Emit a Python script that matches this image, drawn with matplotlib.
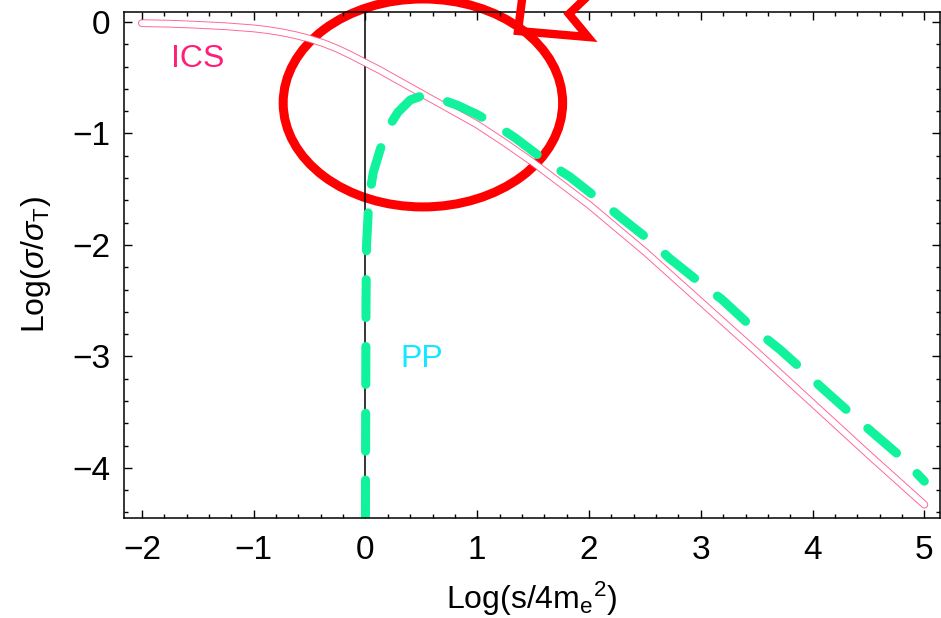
import matplotlib
matplotlib.use("Agg")
import matplotlib.pyplot as plt
from matplotlib.patches import Ellipse
from matplotlib.lines import Line2D
from matplotlib.ticker import MultipleLocator

plt.rcParams['font.family'] = ['Liberation Sans', 'DejaVu Sans']
plt.rcParams['mathtext.fontset'] = 'custom'
plt.rcParams['mathtext.rm'] = 'Liberation Sans'
plt.rcParams['mathtext.it'] = 'Liberation Sans:italic'

# inverse Compton scattering cross section, log10(sigma/sigma_T)
ics_x = [-2.0, -1.75, -1.5, -1.25, -1.0, -0.875, -0.75, -0.625, -0.5, -0.375, -0.25, -0.125,
         0.0, 0.125, 0.25, 0.375, 0.5, 0.625, 0.75, 0.875, 1.0, 1.25, 1.5, 1.75,
         2.0, 2.5, 3.0, 3.5, 4.0, 4.5, 5.0]
ics_y = [-0.01, -0.015, -0.025, -0.038, -0.057, -0.072, -0.092, -0.118, -0.15, -0.19, -0.24, -0.30,
         -0.365, -0.43, -0.50, -0.57, -0.64, -0.71, -0.78, -0.85, -0.92, -1.085, -1.26, -1.45,
         -1.64, -2.06, -2.51, -2.96, -3.42, -3.88, -4.33]

# pair production cross section
pp_x = [0.0, 0.002, 0.005, 0.01, 0.03, 0.07, 0.13, 0.19, 0.29, 0.40, 0.51, 0.64,
        0.83, 1.0, 1.16, 1.34, 1.63, 1.83, 2.11, 2.28, 2.57, 2.72, 3.02, 3.19, 3.46,
        3.71, 3.91, 4.07, 4.35, 4.51, 4.80, 5.0]
pp_y = [-4.45, -3.5, -2.5, -2.0, -1.6, -1.35, -1.15, -0.97, -0.81, -0.70, -0.66, -0.68,
        -0.75, -0.83, -0.92, -1.04, -1.26, -1.39, -1.61, -1.75, -1.98, -2.12, -2.36, -2.49, -2.74,
        -2.94, -3.12, -3.27, -3.52, -3.66, -3.91, -4.12]

fig = plt.figure(figsize=(9.41, 6.18), dpi=100)
ax = fig.add_axes([124 / 941, 100 / 618, 816 / 941, 506 / 618])

ax.axvline(0, color='black', lw=1.1)

# ICS drawn as an outlined stroke: pink underneath, white core on top
ax.plot(ics_x, ics_y, color='#ff4d86', lw=5.6, solid_capstyle='round', alpha=0.85)
ax.plot(ics_x, ics_y, color='white', lw=4.2, solid_capstyle='round')

ax.plot(pp_x, pp_y, color='#10f29c', lw=6.5, dashes=(4.2, 3.2), dash_capstyle='round')

ax.text(-1.5, -0.33, 'ICS', color='#ff1f7a', fontsize=23, ha='center', va='center')
ax.text(0.5, -3.02, 'PP', color='#12e8ff', fontsize=23, ha='center', va='center')

ax.set_xlim(-2.16, 5.14)
ax.set_ylim(-4.45, 0.09)
ax.xaxis.set_major_locator(MultipleLocator(1))
ax.xaxis.set_minor_locator(MultipleLocator(0.2))
ax.yaxis.set_major_locator(MultipleLocator(1))
ax.yaxis.set_minor_locator(MultipleLocator(0.2))
ax.tick_params(which='both', direction='in', top=True, right=True, width=1.0, labelsize=24)
ax.tick_params(axis='x', pad=12)
ax.tick_params(axis='y', pad=10)
ax.tick_params(which='major', length=6)
ax.tick_params(which='minor', length=3)
for spine in ax.spines.values():
    spine.set_linewidth(1.1)

ax.set_xlabel(r'Log(s/4m$_\mathrm{e}$$^\mathrm{2}$)', fontsize=23, labelpad=10)
ax.set_ylabel(r'Log($\sigma/\sigma_\mathrm{T}$)', fontsize=23, labelpad=14)

# red highlight ring around the PP peak and the arrow pointing at it
ring = Ellipse((0.514, -0.726), 2.50, 1.866, fill=False, edgecolor='#ff0000', lw=6.5, clip_on=False)
ax.add_patch(ring)

arrow_px = [(523, -8), (518, 31), (588, 37), (569, 14), (592, -8)]
arrow = Line2D([p[0] / 941 for p in arrow_px], [1 - p[1] / 618 for p in arrow_px],
               transform=fig.transFigure, color='#ff0000', lw=6.0, solid_joinstyle='miter')
fig.add_artist(arrow)

fig.savefig('out.png', dpi=100)
